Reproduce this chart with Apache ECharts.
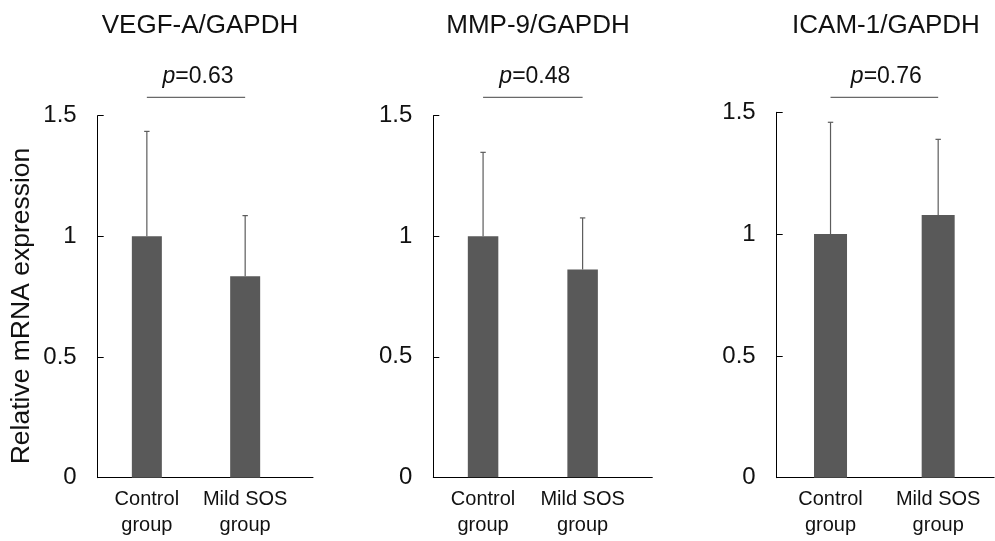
<!DOCTYPE html>
<html>
<head>
<meta charset="utf-8">
<script src="https://cdn.jsdelivr.net/npm/echarts@6/dist/echarts.min.js"></script>
<style>html,body{margin:0;padding:0;background:#fff}#c{width:995px;height:541px}</style>
</head>
<body>
<div id="c"></div>
<script>
// ---- data ----
const categories = ['Control\ngroup', 'Mild SOS\ngroup'];
const panelTitles = ['VEGF-A/GAPDH', 'MMP-9/GAPDH', 'ICAM-1/GAPDH'];
const controlMeans = [1.0, 1.0, 1.0];
const mildMeans = [0.835, 0.862, 1.078];
const controlErr = [0.435, 0.348, 0.459];
const mildErr = [0.251, 0.214, 0.311];
const pValues = ['0.63', '0.48', '0.76'];
const yTicks = [0, 0.5, 1, 1.5];
const yAxisName = 'Relative mRNA expression';

// ---- layout ----
const FONT = '"Liberation Sans", Arial, sans-serif';
const grids = [
  {left: 97.7, top: 115.7, width: 215.3, height: 362},
  {left: 433.3, top: 115.7, width: 219, height: 361.6},
  {left: 776.7, top: 112.3, width: 218.3, height: 365.4}
];
const xMax = [2.69, 2.70, 2.52];
const barWidths = [30, 30.5, 33];
const titleCenters = [195, 533, 881];
const barColor = '#595959';
const errColor = '#5c5c5c';

const chart = echarts.init(document.getElementById('c'), null, {renderer: 'canvas'});

const option = {
  animation: false,
  backgroundColor: '#ffffff',
  title: panelTitles.map((t, i) => ({
    text: t, left: titleCenters[i], top: 8, textAlign: 'center',
    textStyle: {fontFamily: FONT, fontSize: 26, fontWeight: 'normal', color: '#111'}
  })),
  grid: grids.map(g => Object.assign({containLabel: false}, g)),
  xAxis: grids.map((g, i) => ({
    type: 'value', gridIndex: i, min: 0.5, max: xMax[i], interval: 0.5,
    axisLine: {show: true, lineStyle: {color: '#000', width: 1}},
    axisTick: {show: false}, splitLine: {show: false},
    axisLabel: {
      showMaxLabel: false, showMinLabel: false, margin: 9,
      fontFamily: FONT, fontSize: 20, lineHeight: 26, color: '#111',
      formatter: v => (Math.abs(v - Math.round(v)) < 1e-9 && v >= 1 && v <= categories.length) ? categories[Math.round(v) - 1] : ''
    }
  })),
  yAxis: grids.map((g, i) => ({
    type: 'value', gridIndex: i, min: yTicks[0], max: yTicks[yTicks.length - 1], interval: yTicks[1] - yTicks[0],
    axisLine: {show: true, lineStyle: {color: '#000', width: 1}},
    axisTick: {show: true, inside: true, length: 6, lineStyle: {color: '#000'}},
    splitLine: {show: false},
    axisLabel: {margin: 21, fontFamily: FONT, fontSize: 24, color: '#111',
      formatter: v => String(v)}
  })),
  graphic: [{
    type: 'text', x: 22, y: 306, rotation: Math.PI / 2,
    style: {text: yAxisName, fontFamily: FONT, fontSize: 26.5, fill: '#111', align: 'center', verticalAlign: 'middle'}
  }],
  series: []
};

panelTitles.forEach((t, i) => {
  const means = [controlMeans[i], mildMeans[i]];
  const errs = [controlErr[i], mildErr[i]];
  option.series.push({
    type: 'bar', xAxisIndex: i, yAxisIndex: i,
    barWidth: barWidths[i],
    itemStyle: {color: barColor},
    data: means.map((m, k) => [k + 1, m]),
    z: 2
  });
  option.series.push({
    type: 'custom', xAxisIndex: i, yAxisIndex: i, z: 1,
    data: means.map((m, k) => [k + 1, m, errs[k]]),
    renderItem: (params, api) => {
      const x = api.value(0), m = api.value(1), e = api.value(2);
      const p0 = api.coord([x, m]);
      const p1 = api.coord([x, m + e]);
      const st = {stroke: errColor, lineWidth: 1.2};
      return {type: 'group', children: [
        {type: 'line', shape: {x1: p0[0], y1: p0[1], x2: p1[0], y2: p1[1]}, style: st},
        {type: 'line', shape: {x1: p1[0] - 2.7, y1: p1[1], x2: p1[0] + 2.7, y2: p1[1]}, style: st}
      ]};
    }
  });
  option.series.push({
    type: 'custom', xAxisIndex: i, yAxisIndex: i, z: 3, clip: false,
    data: [[1, 2, pValues[i]]],
    renderItem: (params, api) => {
      const a = api.coord([api.value(0), 0]);
      const b = api.coord([api.value(1), 0]);
      const lineY = 97.3;
      return {type: 'group', children: [
        {type: 'line', shape: {x1: a[0], y1: lineY, x2: b[0], y2: lineY}, style: {stroke: '#444', lineWidth: 1}},
        {type: 'text', x: (a[0] + b[0]) / 2 + 2, y: 77,
          style: {text: '{i|p}=' + pValues[i], align: 'center', verticalAlign: 'middle',
            fontFamily: FONT, fontSize: 23, fill: '#111',
            rich: {i: {fontStyle: 'italic', fontFamily: FONT, fontSize: 23, fill: '#111'}}}}
      ]};
    }
  });
});

chart.setOption(option);
</script>
</body>
</html>
